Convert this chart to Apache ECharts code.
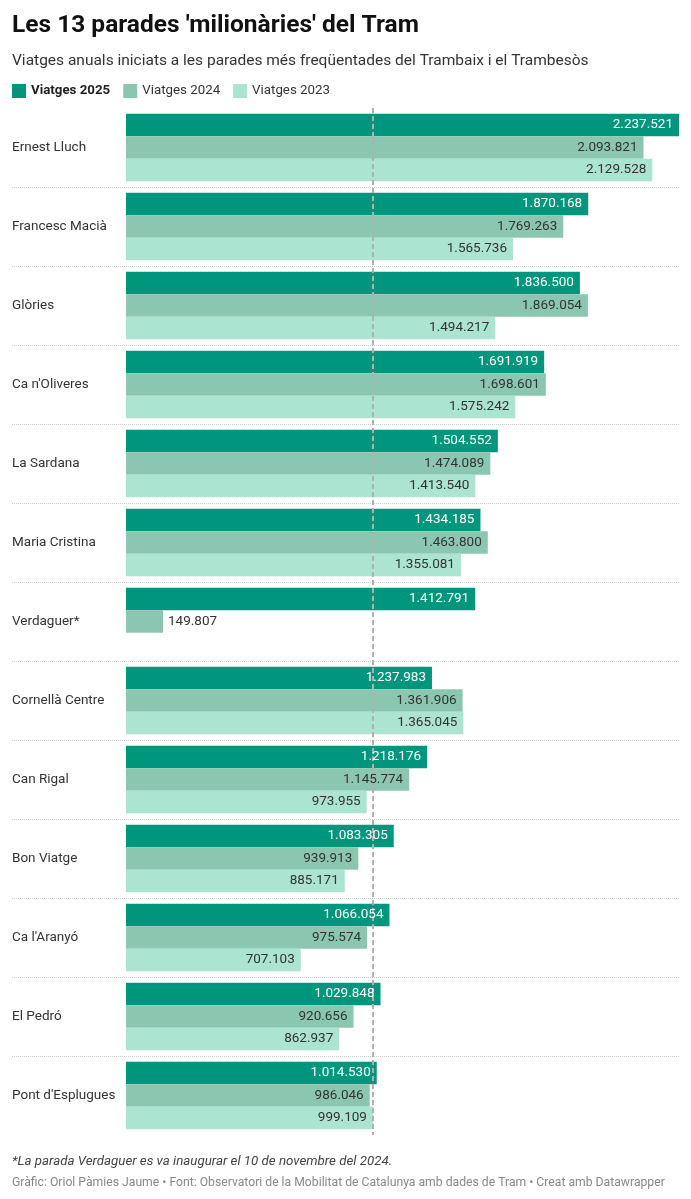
<!DOCTYPE html>
<html>
<head>
<meta charset="utf-8">
<script src="https://cdn.jsdelivr.net/npm/echarts@6/dist/echarts.min.js"></script>
<style>
  html, body { margin: 0; padding: 0; background: #fff; }
  #chart { width: 691px; height: 1199px; }
</style>
</head>
<body>
<div id="chart"></div>
<script>
// parades i viatges
const stops = ['Ernest Lluch', 'Francesc Macià', 'Glòries', "Ca n'Oliveres", 'La Sardana', 'Maria Cristina', 'Verdaguer*', 'Cornellà Centre', 'Can Rigal', 'Bon Viatge', "Ca l'Aranyó", 'El Pedró', "Pont d'Esplugues"]
const trips2025 = [2237521, 1870168, 1836500, 1691919, 1504552, 1434185, 1412791, 1237983, 1218176, 1083305, 1066054, 1029848, 1014530]
const trips2024 = [2093821, 1769263, 1869054, 1698601, 1474089, 1463800, 149807, 1361906, 1145774, 939913, 975574, 920656, 986046]
const trips2023 = [2129528, 1565736, 1494217, 1575242, 1413540, 1355081, null, 1365045, 973955, 885171, 707103, 862937, 999109]
const refLine = 1000000

const fmt = (v) => String(v).replace(/\B(?=(\d{3})+(?!\d))/g, '.')
const font = 'Roboto'

// short bars get their label outside
const toData = (arr) => arr.map(v => {
    if (v !== null && v < 300000) {
        return { value: v, label: { position: 'right', distance: 5, color: '#333' } }
    }
    return v
})

// bars in grid 0, labels in a copy of it (grid 2) so they sit above the dashed line
const makeSeries = (name, arr, color, labelColor, asLabel) => ({
    name: asLabel ? name + ' label' : name,
    type: 'bar',
    z: asLabel ? 6 : 2,
    silent: asLabel,
    xAxisIndex: asLabel ? 2 : 0,
    yAxisIndex: asLabel ? 2 : 0,
    data: toData(arr),
    barGap: '0%',
    barCategoryGap: '14.5%',
    itemStyle: { color: asLabel ? 'rgba(0,0,0,0)' : color },
    label: {
        show: asLabel,
        position: 'insideRight',
        distance: 6,
        color: labelColor,
        fontFamily: font,
        fontSize: 13.5,
        formatter: p => fmt(p.value)
    }
})

const chart = echarts.init(document.getElementById('chart'), null, { renderer: 'canvas' })

const s2025 = makeSeries('Viatges 2025', trips2025, '#00967e', '#fff', false)
s2025.markLine = {
    silent: true,
    z: 4,
    symbol: 'none',
    label: { show: false },
    lineStyle: { color: '#b0b0b0', type: [5, 3], width: 2 },
    data: [{ xAxis: refLine }]
}

const plotGrid = { left: 126, right: 12, top: 108, bottom: 64 }

const option = {
    animation: false,
    textStyle: { fontFamily: font },
    title: [
        { text: "Les 13 parades 'milionàries' del Tram", left: 12, top: 13, padding: 0,
          textStyle: { fontSize: 24.5, fontWeight: 'bold', color: '#111', fontFamily: font } },
        { text: 'Viatges anuals iniciats a les parades més freqüentades del Trambaix i el Trambesòs', left: 12, top: 53, padding: 0,
          textStyle: { fontSize: 15.5, fontWeight: 'normal', color: '#333', fontFamily: font } },
        { text: '*La parada Verdaguer es va inaugurar el 10 de novembre del 2024.', left: 12, top: 1155, padding: 0,
          textStyle: { fontSize: 13.3, fontWeight: 'normal', fontStyle: 'italic', color: '#444', fontFamily: font } },
        { text: 'Gràfic: Oriol Pàmies Jaume • Font: Observatori de la Mobilitat de Catalunya amb dades de Tram • Creat amb Datawrapper', left: 12, top: 1177, padding: 0,
          textStyle: { fontSize: 12.2, fontWeight: 'normal', color: '#888', fontFamily: font } }
    ],
    legend: {
        left: 12,
        top: 84,
        padding: 0,
        icon: 'rect',
        itemWidth: 14,
        itemHeight: 14,
        itemGap: 13,
        data: ['Viatges 2025', 'Viatges 2024', 'Viatges 2023'],
        formatter: n => n === 'Viatges 2025' ? '{b|' + n + '}' : n,
        textStyle: {
            fontSize: 13.3, color: '#333', fontFamily: font,
            rich: { b: { fontWeight: 'bold', fontSize: 13.3, color: '#222', fontFamily: font } }
        }
    },
    grid: [
        plotGrid,
        { left: 12, right: 12, top: 108, bottom: 64 },
        plotGrid
    ],
    xAxis: [
        { type: 'value', gridIndex: 0, min: 0, max: 'dataMax', show: false },
        { type: 'value', gridIndex: 1, show: false },
        { type: 'value', gridIndex: 2, min: 0, max: 'dataMax', show: false }
    ],
    yAxis: [
        {
            type: 'category', gridIndex: 0, data: stops, inverse: true,
            axisLine: { show: false }, axisTick: { show: false },
            splitLine: { show: false },
            axisLabel: { align: 'left', margin: 114, fontSize: 13.5, color: '#333', fontFamily: font }
        },
        {
            type: 'category', gridIndex: 1, data: stops, inverse: true,
            axisLine: { show: false }, axisTick: { show: false }, axisLabel: { show: false },
            splitLine: { show: true, showMinLine: false, showMaxLine: false,
                         lineStyle: { color: '#ccc', type: 'dotted', width: 1 } }
        },
        { type: 'category', gridIndex: 2, data: stops, inverse: true, show: false }
    ],
    series: [
        s2025,
        makeSeries('Viatges 2024', trips2024, '#8bc7b0', '#333', false),
        makeSeries('Viatges 2023', trips2023, '#abe4d0', '#333', false),
        makeSeries('Viatges 2025', trips2025, '#00967e', '#fff', true),
        makeSeries('Viatges 2024', trips2024, '#8bc7b0', '#333', true),
        makeSeries('Viatges 2023', trips2023, '#abe4d0', '#333', true)
    ]
}

chart.setOption(option)
</script>
</body>
</html>
